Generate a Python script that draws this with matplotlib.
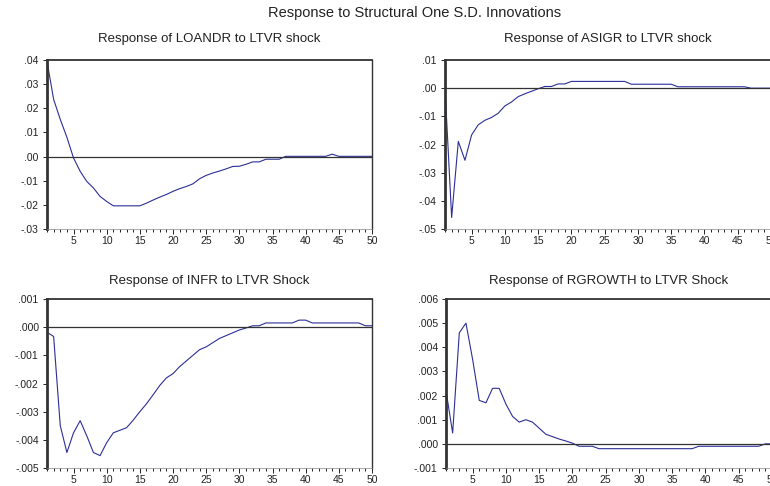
# Impulse responses to an LTVR shock, 4 panels like the EViews output
import numpy as np
import matplotlib
matplotlib.use('Agg')
import matplotlib.pyplot as plt
from matplotlib.ticker import MultipleLocator, FuncFormatter

plt.rcParams['font.family'] = ['Liberation Sans', 'DejaVu Sans']

periods = list(range(1, 51))

loandr = [0.0395, 0.0237, 0.0154, 0.0080, -0.0006, -0.0061, -0.0103, -0.0130, -0.0165, -0.0186,
          -0.0204, -0.0204, -0.0204, -0.0204, -0.0204, -0.0193, -0.0180, -0.0168, -0.0157, -0.0144,
          -0.0133, -0.0124, -0.0113, -0.0092, -0.0078, -0.0068, -0.0060, -0.0051, -0.0041, -0.0040,
          -0.0032, -0.0022, -0.0022, -0.0011, -0.0011, -0.0011, 0.0001, 0.0001, 0.0001, 0.0001,
          0.0001, 0.0001, 0.0001, 0.0010, 0.0001, 0.0001, 0.0001, 0.0001, 0.0001, 0.0001]

asigr = [0.0000, -0.0459, -0.0189, -0.0256, -0.0166, -0.0130, -0.0114, -0.0104, -0.0089, -0.0063,
         -0.0049, -0.0030, -0.0020, -0.0011, -0.0002, 0.0006, 0.0006, 0.0015, 0.0015, 0.0024,
         0.0024, 0.0024, 0.0024, 0.0024, 0.0024, 0.0024, 0.0024, 0.0024, 0.0014, 0.0014,
         0.0014, 0.0014, 0.0014, 0.0014, 0.0014, 0.0005, 0.0005, 0.0005, 0.0005, 0.0005,
         0.0005, 0.0005, 0.0005, 0.0005, 0.0005, 0.0005, 0.0000, 0.0000, 0.0000, 0.0000]

infr = [-0.00018, -0.00033, -0.00350, -0.00445, -0.00375, -0.00332, -0.00386, -0.00445, -0.00456, -0.00410,
        -0.00375, -0.00366, -0.00357, -0.00330, -0.00300, -0.00272, -0.00240, -0.00207, -0.00180, -0.00165,
        -0.00140, -0.00120, -0.00100, -0.00080, -0.00070, -0.00055, -0.00040, -0.00030, -0.00020, -0.00010,
        -0.00003, 0.00005, 0.00005, 0.00015, 0.00015, 0.00015, 0.00015, 0.00015, 0.00025, 0.00025,
        0.00015, 0.00015, 0.00015, 0.00015, 0.00015, 0.00015, 0.00015, 0.00015, 0.00005, 0.00005]

rgrowth = [0.00220, 0.00045, 0.00460, 0.00500, 0.00350, 0.00180, 0.00170, 0.00230, 0.00230, 0.00165,
           0.00114, 0.00090, 0.00100, 0.00090, 0.00065, 0.00040, 0.00030, 0.00020, 0.00012, 0.00003,
           -0.0001, -0.0001, -0.0001, -0.0002, -0.0002, -0.0002, -0.0002, -0.0002, -0.0002, -0.0002,
           -0.0002, -0.0002, -0.0002, -0.0002, -0.0002, -0.0002, -0.0002, -0.0002, -0.0001, -0.0001,
           -0.0001, -0.0001, -0.0001, -0.0001, -0.0001, -0.0001, -0.0001, -0.0001, 0.0000, 0.0000]

titles = ['Response of LOANDR to LTVR shock', 'Response of ASIGR to LTVR shock',
          'Response of INFR to LTVR Shock', 'Response of RGROWTH to LTVR Shock']
series = [loandr, asigr, infr, rgrowth]
ylims = [(-0.03, 0.04), (-0.05, 0.01), (-0.005, 0.001), (-0.001, 0.006)]
ysteps = [0.01, 0.01, 0.001, 0.001]
ydecimals = [2, 2, 3, 3]

# axes boxes in pixels: left, top, right, bottom
W, H = 770, 486
boxes = [(47, 60, 372, 229), (445, 60, 771, 229),
         (47, 299, 372, 468), (446, 299, 772, 468)]
title_pads = [13, 13, 11, 11]

fig = plt.figure(figsize=(W / 100, H / 100), dpi=100)
fig.text(415 / W, 1 - 13 / H, 'Response to Structural One S.D. Innovations',
         ha='center', va='center', fontsize=10.5, color='#222222')


def make_fmt(dec):
    def f(v, pos):
        s = ('%.' + str(dec) + 'f') % v
        s = s.replace('0.', '.', 1)
        if s == '-.' + '0' * dec:
            s = '.' + '0' * dec
        return s
    return f


line_color = '#2c2f96'

for i in range(4):
    l, t, r, b = boxes[i]
    ax = fig.add_axes([l / W, 1 - b / H, (r - l) / W, (b - t) / H])
    ax.plot(periods, series[i], color=line_color, lw=0.8)
    ax.axhline(0, color='#333333', lw=0.9)
    ax.set_xlim(1, 50)
    ax.set_ylim(*ylims[i])
    ax.xaxis.set_minor_locator(MultipleLocator(1))
    ax.yaxis.set_major_locator(MultipleLocator(ysteps[i]))
    ax.yaxis.set_major_formatter(FuncFormatter(make_fmt(ydecimals[i])))
    ax.set_xticks([p for p in periods if p % 5 == 0])
    ax.tick_params(axis='both', direction='out', labelsize=7.5, colors='#222222', width=0.7)
    ax.tick_params(axis='x', which='major', length=3.5, pad=1.5)
    ax.tick_params(axis='x', which='minor', length=2.5, width=0.6)
    ax.tick_params(axis='y', length=3, pad=3)
    ax.spines['left'].set_linewidth(2.0)
    ax.spines['left'].set_color('#333333')
    ax.spines['top'].set_linewidth(1.3)
    ax.spines['top'].set_color('#333333')
    ax.spines['right'].set_linewidth(1.0)
    ax.spines['right'].set_color('#333333')
    ax.spines['bottom'].set_linewidth(0.5)
    ax.spines['bottom'].set_color('#888888')
    ax.set_title(titles[i], fontsize=9.5, pad=title_pads[i], color='#222222')

plt.savefig('out.png', dpi=100)
print("done")
